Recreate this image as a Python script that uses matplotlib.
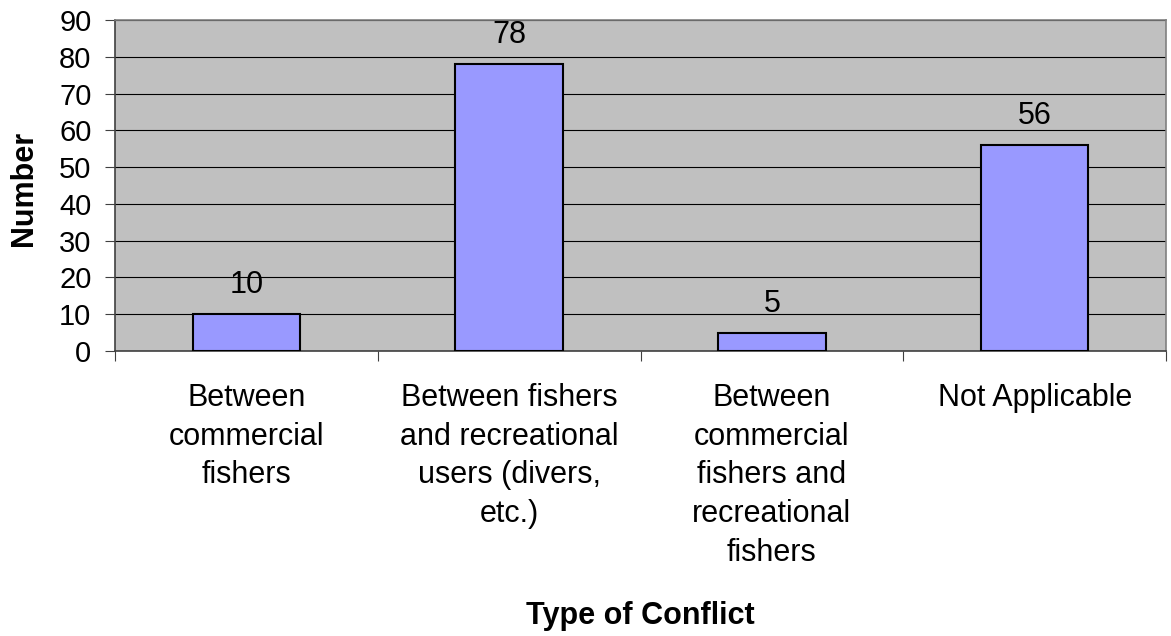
import matplotlib
matplotlib.use('Agg')
import numpy as np
from matplotlib import pyplot as plt

categories = ['Between\ncommercial\nfishers',
              'Between fishers\nand recreational\nusers (divers,\netc.)',
              'Between\ncommercial\nfishers and\nrecreational\nfishers',
              'Not Applicable']
values = [10, 78, 5, 56]
yticks = list(range(0, 91, 10))

plt.rcParams['font.family'] = ['Liberation Sans', 'DejaVu Sans']
fs = 22

fig = plt.figure(figsize=(11.71, 6.36), dpi=100)
ax = fig.add_axes([115 / 1171, 1 - 351 / 636, (1166 - 115) / 1171, (351 - 20) / 636])
ax.set_facecolor('#C0C0C0')

x = np.arange(len(categories))
bars = ax.bar(x, values, width=0.41, color='#9999FF', edgecolor='black', linewidth=1.5, zorder=3)
for b, v in zip(bars, values):
    ax.annotate(str(v), (b.get_x() + b.get_width() / 2, v), xytext=(0, 10),
                textcoords='offset points', ha='center', va='bottom', fontsize=fs)

ax.set_xlim(-0.5, len(categories) - 0.5)
ax.set_ylim(0, 90)
ax.set_yticks(yticks)
ax.yaxis.grid(True, color='black', linewidth=0.8, zorder=1)
ax.set_axisbelow(True)
ax.tick_params(axis='y', labelsize=21, length=7, width=0.8, color='#404040', pad=10)

ax.set_xticks(np.arange(len(categories) + 1) - 0.5)
ax.set_xticklabels([])
ax.set_xticks(x, minor=True)
ax.set_xticklabels(categories, minor=True, fontsize=fs, linespacing=1.38)
ax.tick_params(axis='x', which='major', length=7, width=0.8, color='#404040')
ax.tick_params(axis='x', which='minor', length=0, pad=23)

ax.spines['left'].set_color('#404040')
ax.spines['bottom'].set_color('#404040')
ax.spines['top'].set_color('#808080')
ax.spines['right'].set_color('#808080')
for s in ax.spines.values():
    s.set_linewidth(1.2)

fig.text(24 / 1171, 1 - 188 / 636, 'Number', rotation=90, ha='center', va='center',
         fontsize=fs, fontweight='bold')
fig.text((115 + 1166) / 2 / 1171, 1 - 624 / 636, 'Type of Conflict', ha='center', va='baseline',
         fontsize=fs, fontweight='bold')

fig.savefig('out.png', dpi=100)
